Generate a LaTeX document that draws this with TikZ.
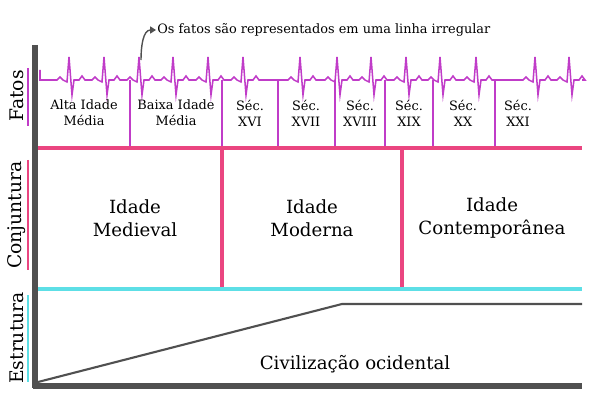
\documentclass[tikz,border=0pt]{standalone}
\usepackage{fontspec}
\setmainfont{DejaVu Serif}
\usetikzlibrary{arrows.meta}
\definecolor{ecg}{HTML}{C03CC8}
\definecolor{pinkc}{HTML}{EA4580}
\definecolor{cyanc}{HTML}{5DDFE6}
\definecolor{axisc}{HTML}{505050}
\tikzset{
  small/.style={font=\fontsize{11}{13.5}\selectfont, align=center},
  big/.style={font=\fontsize{15.5}{20}\selectfont, align=center},
  side/.style={font=\fontsize{16}{18}\selectfont, rotate=90},
  sep/.style={ecg, line width=2.5pt},
}
\begin{document}
\begin{tikzpicture}[x=0.03cm,y=-0.03cm]
\useasboundingbox (0,0) rectangle (600,400);
% ECG
\draw[ecg, line width=1.3pt] (40,70) -- (40,80)
 foreach \p in {69,104,139,173,208,243,300,337,371,406,440,476,535,569}{
   -- (\p-12,80) -- (\p-9,77) -- (\p-6,80) -- (\p-2,82) -- (\p,57) -- (\p+3,95) -- (\p+5,80) -- (\p+10,80) -- (\p+13,76) -- (\p+16,80)
 } -- (582,80);
% separators
\foreach \x in {130,222,278,335,385,433,495}{
  \draw[sep] (\x,80) -- (\x,148);
}
% lines
\draw[pinkc, line width=3.5pt] (38,148) -- (582,148);
\draw[pinkc, line width=3.5pt] (222,148) -- (222,287);
\draw[pinkc, line width=3.5pt] (402,148) -- (402,287);
\draw[cyanc, line width=3.5pt] (38,289) -- (582,289);
\draw[axisc, line width=1.8pt] (38,382) -- (342,304) -- (582,304);
% axes
\draw[axisc, line width=4.5pt] (35,45) -- (35,388);
\draw[axisc, line width=4.5pt] (33,386) -- (582,386);
% side bars
\draw[ecg, line width=1.5pt] (28,68) -- (28,126);
\draw[pinkc, line width=1.5pt] (28,160) -- (28,270);
\draw[cyanc, line width=1.5pt] (28,295) -- (28,382);
\node[side] (fatos) at (17,96) {Fatos};
\node[side] (conj) at (17,215) {Conjuntura};
\node[side] (estr) at (17,338) {Estrutura};
% labels
\node[small] (a1) at (84,113) {Alta Idade\\Média};
\node[small] (a2) at (176,113) {Baixa Idade\\Média};
\node[small] (a3) at (250,113) {Séc.\\XVI};
\node[small] (a4) at (306,113) {Séc.\\XVII};
\node[small] (a5) at (360,113) {Séc.\\XVIII};
\node[small] (a6) at (409,113) {Séc.\\XIX};
\node[small] (a7) at (463,113) {Séc.\\XX};
\node[small] (a8) at (518,113) {Séc.\\XXI};
\node[big] (m) at (135,218) {Idade\\Medieval};
\node[big] (mo) at (312,218) {Idade\\Moderna};
\node[big] (c) at (492,218) {Idade\\Contemporânea};
\node[big] (civ) at (355,364) {Civilização ocidental};
\node[font=\fontsize{11}{13}\selectfont, anchor=west, inner sep=1pt] (note) at (156,30) {Os fatos são representados em uma linha irregular};
\coordinate (ns) at (141,60);
\draw[axisc, line width=1.2pt, -{Triangle[length=5pt,width=6pt]}] (ns) to[out=90,in=180] (note.west);
\end{tikzpicture}
\end{document}
